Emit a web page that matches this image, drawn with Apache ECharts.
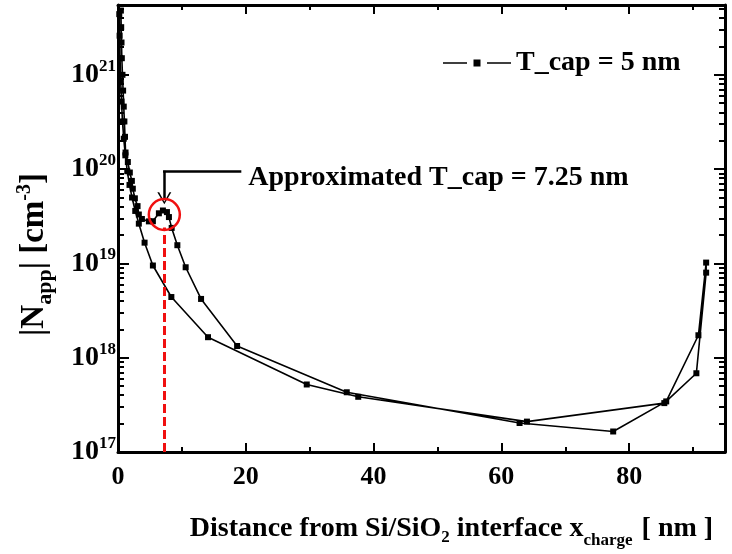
<!DOCTYPE html>
<html>
<head>
<meta charset="utf-8">
<script src="https://cdn.jsdelivr.net/npm/echarts@6/dist/echarts.min.js"></script>
<style>
  html, body { margin: 0; padding: 0; background: #fff; }
  #chart { width: 732px; height: 554px; }
</style>
</head>
<body>
<div id="chart"></div>
<script>
// Apparent doping profile |N_app| vs. charge depth, one full sweep (out and back)
const xCharge = [
  0.45, 0.5, 0.55, 0.6, 0.7, 0.8, 0.9, 1.0, 1.1, 1.18,
  1.54, 1.85, 2.17, 2.32, 2.64, 3.06, 3.26, 3.74, 4.83, 5.46,
  6.4, 7.03, 7.66, 7.97, 8.4, 9.29, 10.59, 13.0, 18.64, 35.8,
  62.85, 77.5, 85.8, 90.84, 92.05,
  92.05, 90.52, 85.5, 64.0, 37.6, 29.54, 14.09, 8.35, 5.46, 4.16,
  3.26, 2.7, 2.2, 1.8, 1.45, 1.15, 0.9, 0.7, 0.55, 0.42,
  0.32, 0.25, 0.2
];
const nApp = [
  4.8e21, 3.2e21, 2.2e21, 1.5e21, 1.0e21, 6.8e20, 4.6e20, 3.2e20, 2.2e20, 1.5e20,
  1.19e20, 9.2e19, 7.5e19, 6.2e19, 4.9e19, 4.05e19, 3.3e19, 2.96e19, 2.79e19, 2.8e19,
  3.4e19, 3.64e19, 3.5e19, 3.1e19, 2.38e19, 1.56e19, 9.1e18, 4.2e18, 1.33e18, 4.3e17,
  2.03e17, 1.65e17, 3.44e17, 1.73e18, 1.02e19,
  7.98e18, 6.84e17, 3.3e17, 2.1e17, 3.85e17, 5.2e17, 1.65e18, 4.4e18, 9.5e18, 1.66e19,
  2.64e19, 3.6e19, 5.0e19, 6.8e19, 9.5e19, 1.4e20, 2.1e20, 3.2e20, 5.2e20, 8.5e20,
  1.5e21, 2.6e21, 4.4e21
];
const seriesName = 'T_cap = 5 nm';
const xTickStep = 20;
const xRange = [0, 95];
const yRange = [1e17, 5.5e21];

// Annotation: extracted cap thickness and where its arrow sits
const tCapApprox = 7.25;
const peakN = 3.3e19;        // centre of the highlighted bump
const arrowLevelN = 9.6e19;  // height of the arrow's horizontal leg
const arrowTipN = 4.9e19;    // arrow tip, just above the circle
const arrowLegEndX = 19.3;   // right end of the horizontal leg
const dashTopN = 2.4e19;
const annotationText = 'Approximated T_cap = 7.25 nm';

const FONT = '"Liberation Serif", "Times New Roman", serif';
const BLACK = '#000';
const RED = '#f01010';

const data = xCharge.map((x, i) => [x, nApp[i]]);

const tickStyle = { color: BLACK, width: 2 };

function xAxisBase(pos, showLabels) {
  return {
    type: 'value', position: pos, min: xRange[0], max: xRange[1], interval: xTickStep,
    axisLine: { show: true, onZero: false, lineStyle: { color: BLACK, width: 3 } },
    axisTick: { show: true, inside: true, length: 9, lineStyle: tickStyle },
    minorTick: { show: true, splitNumber: 2, length: 5, lineStyle: tickStyle },
    splitLine: { show: false },
    minorSplitLine: { show: false },
    axisLabel: {
      show: showLabels, margin: 12, color: BLACK, fontFamily: FONT,
      fontWeight: 'bold', fontSize: 26, showMaxLabel: false,
      formatter: v => (v % xTickStep === 0 ? String(v) : '')
    }
  };
}

function yAxisBase(pos, showLabels) {
  return {
    type: 'log', logBase: 10, position: pos, min: yRange[0], max: yRange[1],
    axisLine: { show: true, onZero: false, lineStyle: { color: BLACK, width: 3 } },
    axisTick: { show: true, inside: true, length: 11, lineStyle: tickStyle },
    // 2..9 x 10^n between decades
    minorTick: { show: true, splitNumber: 9, length: 6, lineStyle: tickStyle },
    splitLine: { show: false },
    minorSplitLine: { show: false },
    axisLabel: {
      show: showLabels, margin: 2, color: BLACK, showMaxLabel: false,
      formatter: v => {
        const e = Math.log10(v);
        if (Math.abs(e - Math.round(e)) > 1e-6) return '';
        return '{b|10}{s|' + Math.round(e) + '}';
      },
      rich: {
        b: { fontFamily: FONT, fontWeight: 'bold', fontSize: 28, color: BLACK },
        s: { fontFamily: FONT, fontWeight: 'bold', fontSize: 17, color: BLACK, padding: [0, 0, 17, 0] }
      }
    }
  };
}

const xBottom = xAxisBase('bottom', true);
xBottom.name = '{a|Distance from Si/SiO}{sub|2}{a| interface x}{sub2|charge}{a| [ nm ]}';
xBottom.nameLocation = 'middle';
xBottom.nameGap = 56;
xBottom.nameTextStyle = {
  padding: [0, 0, 0, 60],
  rich: {
    a: { fontFamily: FONT, fontWeight: 'bold', fontSize: 28, color: BLACK },
    sub: { fontFamily: FONT, fontWeight: 'bold', fontSize: 17, color: BLACK, padding: [18, 0, 0, 0] },
    sub2: { fontFamily: FONT, fontWeight: 'bold', fontSize: 17, color: BLACK, padding: [24, 2, 0, 0] }
  }
};

const yLeft = yAxisBase('left', true);
yLeft.name = '{a||N}{sub|app}{a|| [cm}{sup|-3}{a|]}';
yLeft.nameLocation = 'middle';
yLeft.nameGap = 62;
yLeft.nameRotate = 90;
yLeft.nameTextStyle = {
  padding: [0, 52, 0, 0],
  rich: {
    a: { fontFamily: FONT, fontWeight: 'bold', fontSize: 33, color: BLACK },
    sub: { fontFamily: FONT, fontWeight: 'bold', fontSize: 22, color: BLACK, padding: [21, 0, 0, 0] },
    sup: { fontFamily: FONT, fontWeight: 'bold', fontSize: 20, color: BLACK, padding: [0, 0, 19, 0] }
  }
};

const chevron = 'path://M0,0 L1.6,0 L6,8.6 L10.4,0 L12,0 L6,11 Z';
// legend key: line, gap, square marker, gap, line
const legendKey = 'path://M0,2.7 L24,2.7 L24,4.3 L0,4.3 Z M30.5,0 L37.5,0 L37.5,7 L30.5,7 Z M44,2.7 L68,2.7 L68,4.3 L44,4.3 Z';

const option = {
  animation: false,
  backgroundColor: '#fff',
  grid: { left: 118, right: 7, top: 5, bottom: 99 },
  legend: {
    data: [{ name: seriesName, icon: legendKey }],
    left: 438, top: 44,
    itemWidth: 68, itemHeight: 7,
    textStyle: { fontFamily: FONT, fontWeight: 'bold', fontSize: 28, color: BLACK }
  },
  xAxis: [xBottom, xAxisBase('top', false)],
  yAxis: [yLeft, yAxisBase('right', false)],
  series: [{
    name: seriesName,
    type: 'line',
    data: data,
    symbol: 'rect',
    symbolSize: 6,
    showAllSymbol: true,
    itemStyle: { color: BLACK },
    lineStyle: { color: BLACK, width: 1.6 },
    markPoint: {
      silent: true,
      label: { show: false },
      data: [{
        coord: [tCapApprox, peakN], symbol: 'circle', symbolSize: 31,
        itemStyle: { color: 'rgba(0,0,0,0)', borderColor: RED, borderWidth: 2.5 }
      }]
    },
    markLine: {
      silent: true,
      symbol: ['none', 'none'],
      label: { show: false },
      data: [
        [
          { coord: [tCapApprox, yRange[0]], lineStyle: { color: RED, width: 3, type: [9, 4] } },
          { coord: [tCapApprox, dashTopN] }
        ],
        [
          { coord: [tCapApprox, arrowLevelN], symbol: 'none', lineStyle: { color: BLACK, width: 2.5, type: 'solid' } },
          { coord: [tCapApprox, arrowTipN], symbol: chevron, symbolSize: [14, 12], symbolRotate: 0 }
        ],
        [
          { coord: [tCapApprox - 0.2, arrowLevelN], lineStyle: { color: BLACK, width: 2.5, type: 'solid' } },
          {
            coord: [arrowLegEndX, arrowLevelN],
            label: {
              show: true, position: 'end', distance: 7, formatter: annotationText,
              fontFamily: FONT, fontWeight: 'bold', fontSize: 28, color: BLACK, offset: [0, 7]
            }
          }
        ]
      ]
    }
  }]
};

const chart = echarts.init(document.getElementById('chart'), null, { renderer: 'canvas' });
chart.setOption(option);
</script>
</body>
</html>
